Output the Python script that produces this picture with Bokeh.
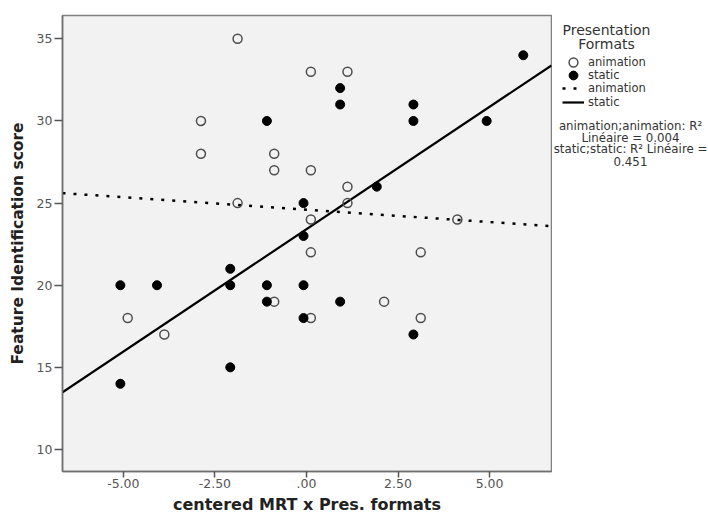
import numpy as np
from bokeh.plotting import figure
from bokeh.layouts import row
from bokeh.models import Range1d, FixedTicker, Legend, LegendItem, Label
from bokeh.embed import file_html
from bokeh.resources import INLINE

# ---------------- data ----------------
anim_x = [-1.88, 0.12, 1.12, -2.88, -2.88, -0.88, -0.88, 0.12, -1.88, 1.12, 1.12,
          0.12, 4.12, 0.12, 3.12, -4.88, -3.88, -0.88, 2.12, 0.12, 3.12]
anim_y = [35, 33, 33, 30, 28, 28, 27, 27, 25, 26, 25,
          24, 24, 22, 22, 18, 17, 19, 19, 18, 18]

static_x = [5.92, 0.92, 0.92, 2.92, 2.92, 4.92, -1.08, 1.92, -0.08, -0.08, -2.08,
            -5.08, -4.08, -2.08, -1.08, -0.08, -1.08, 0.92, -0.08, 2.92, -2.08, -5.08]
static_y = [34, 32, 31, 31, 30, 30, 30, 26, 25, 23, 21,
            20, 20, 20, 20, 20, 19, 19, 18, 17, 15, 14]

# linear fits (slope, intercept) as drawn in the chart
anim_fit = (-0.151, 24.6)
static_fit = (1.49, 23.41)

x_ticks = [-5, -2.5, 0, 2.5, 5]
x_tick_labels = ["-5.00", "-2.50", ".00", "2.50", "5.00"]
y_ticks = [10, 15, 20, 25, 30, 35]

legend_title = ["Presentation", "Formats"]
legend_labels = ["animation", "static", "animation", "static"]
r2_lines = ["animation;animation: R\u00b2", "Lin\u00e9aire = 0.004",
            "static;static: R\u00b2 Lin\u00e9aire =", "0.451"]

X_LO, X_HI = -6.66, 6.69
Y_LO, Y_HI = 8.66, 36.42

# ---------------- main figure ----------------
p = figure(width=552, height=516, output_backend="svg", toolbar_location=None,
           x_range=Range1d(X_LO, X_HI), y_range=Range1d(Y_LO, Y_HI),
           min_border_left=62, min_border_right=1, min_border_top=15,
           min_border_bottom=45)
p.background_fill_color = "#f2f2f2"
p.border_fill_color = "white"
p.outline_line_color = "#808080"
p.outline_line_width = 1.5
p.grid.visible = False

for ax in (p.xaxis[0], p.yaxis[0]):
    ax.axis_line_color = "#6e6e6e"
    ax.axis_line_width = 1.5
    ax.major_tick_line_color = "#555555"
    ax.major_tick_line_width = 1.5
    ax.major_tick_in = 0
    ax.minor_tick_line_color = None
    ax.major_label_text_font = "DejaVu Sans"
    ax.major_label_text_font_size = "12.5px"
    ax.major_label_text_color = "#555555"
    ax.axis_label_text_font = "DejaVu Sans"
    ax.axis_label_text_font_style = "bold"
    ax.axis_label_text_color = "#222222"

p.xaxis.ticker = FixedTicker(ticks=x_ticks)
p.xaxis.major_label_overrides = {t: l for t, l in zip(x_ticks, x_tick_labels)}
p.xaxis.major_tick_out = 6
p.xaxis.major_label_standoff = 1
p.xaxis.axis_label_standoff = 4
p.xaxis.axis_label_text_font_size = "16px"
p.xaxis.axis_label = "centered MRT x Pres. formats"

p.yaxis.ticker = FixedTicker(ticks=y_ticks)
p.yaxis.major_tick_out = 8
p.yaxis.major_label_standoff = 2
p.yaxis.axis_label_standoff = 7
p.yaxis.axis_label_text_font_size = "15.5px"
p.yaxis.axis_label = "Feature Identification score"

xs_fit = np.array([X_LO, X_HI])
ANIM_LINE = dict(line_color="black", line_width=2.5, line_dash="3 8")
STATIC_LINE = dict(line_color="black", line_width=2.2)
ANIM_MARK = dict(marker="circle", size=9, fill_color=None, line_color="#4d4d4d", line_width=1.5)
STATIC_MARK = dict(marker="circle", size=9, fill_color="black", line_color="black", line_width=1)

p.line(xs_fit, anim_fit[0] * xs_fit + anim_fit[1], **ANIM_LINE)
p.line(xs_fit, static_fit[0] * xs_fit + static_fit[1], **STATIC_LINE)
p.scatter(anim_x, anim_y, **ANIM_MARK)
p.scatter(static_x, static_y, **STATIC_MARK)

# ---------------- side panel with legend and R^2 notes ----------------
side = figure(width=156, height=516, output_backend="svg", toolbar_location=None,
              x_range=Range1d(0, 156), y_range=Range1d(0, 516),
              x_axis_type=None, y_axis_type=None,
              min_border_left=0, min_border_right=0, min_border_top=15, min_border_bottom=45)
side.grid.visible = False
side.outline_line_color = None
side.background_fill_color = "white"
side.border_fill_color = "white"

# legend proxies (hidden, same styling as the main-plot renderers)
l_anim = side.scatter(anim_x, anim_y, visible=False, **ANIM_MARK)
l_static = side.scatter(static_x, static_y, visible=False, **STATIC_MARK)
l_anim_line = side.line(xs_fit, anim_fit[0] * xs_fit + anim_fit[1], visible=False, **ANIM_LINE)
l_static_line = side.line(xs_fit, static_fit[0] * xs_fit + static_fit[1], visible=False, **STATIC_LINE)

# side frame spans page y 15..471; one legend per row
for lab, rend, yc in zip(legend_labels, [l_anim, l_static, l_anim_line, l_static_line],
                         [61.5, 74.9, 88.3, 101.7]):
    lg = Legend(items=[LegendItem(label=lab, renderers=[rend])],
                location=(10, 471 - yc - 11))
    lg.glyph_width = 22
    lg.glyph_height = 22
    lg.spacing = 0
    lg.padding = 0
    lg.margin = 0
    lg.label_standoff = 4
    lg.label_text_font = "DejaVu Sans"
    lg.label_text_font_size = "11.5px"
    lg.label_text_color = "#333333"
    lg.border_line_color = None
    lg.background_fill_alpha = 0
    side.add_layout(lg, "center")

for txt, yc in zip(legend_title, [29.3, 43.3]):
    side.add_layout(Label(x=54, y=471 - yc, x_units="screen", y_units="screen", text=txt,
                          text_align="center", text_baseline="middle",
                          text_font="DejaVu Sans", text_font_size="14px",
                          text_color="#333333"))

for txt, yc in zip(r2_lines, [125.3, 137.0, 148.7, 161.3]):
    side.add_layout(Label(x=78, y=471 - yc, x_units="screen", y_units="screen", text=txt,
                          text_align="center", text_baseline="middle",
                          text_font="DejaVu Sans", text_font_size="11.8px",
                          text_color="#333333"))

layout = row(p, side)
open("out.html", "w").write(file_html(layout, INLINE))
